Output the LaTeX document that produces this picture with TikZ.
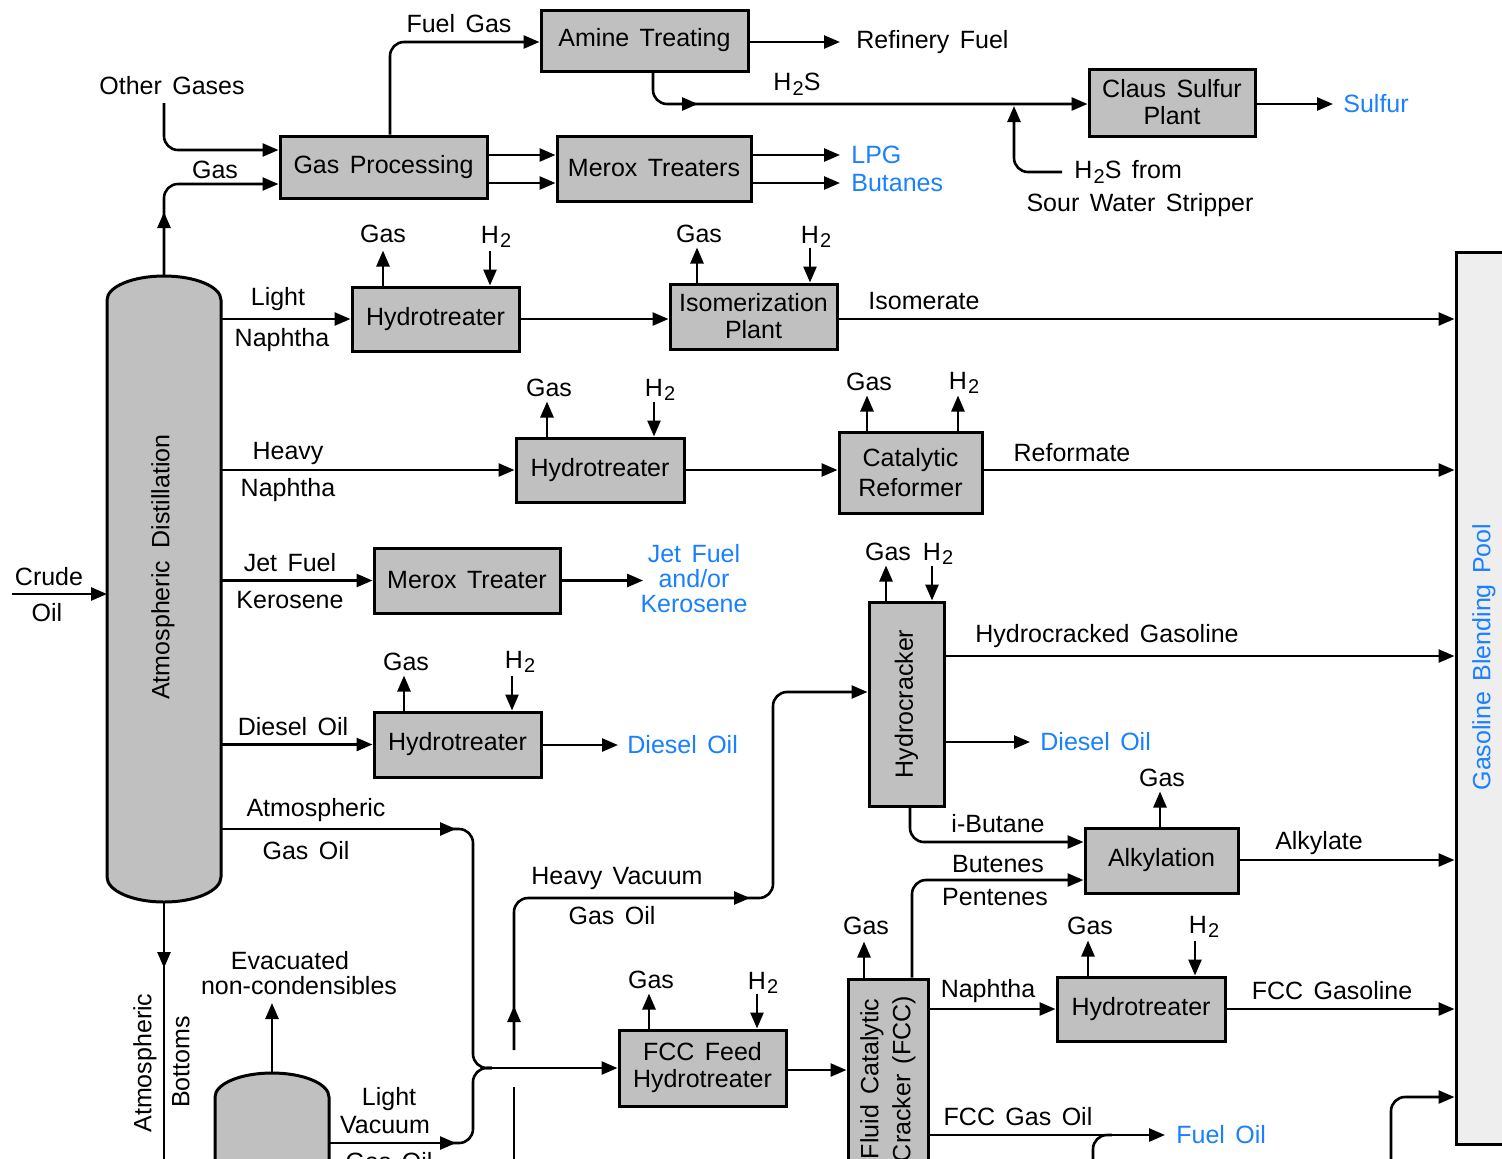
\documentclass[tikz,border=0pt]{standalone}
\usepackage{fontspec}
\setmainfont{Liberation Sans}[WordSpace=1.5]
\usetikzlibrary{arrows.meta,calc}
\definecolor{boxgray}{RGB}{192,192,192}
\definecolor{poolgray}{RGB}{238,238,238}
\definecolor{refblue}{RGB}{25,128,255}
\newcommand{\Htwo}{H\kern0.6pt\raisebox{-0.35ex}{\fontsize{10}{10}\selectfont 2}}
\begin{document}
\begin{tikzpicture}[x=0.5pt,y=-0.5pt,
 every node/.style={font=\fontsize{12.5}{13.5}\selectfont},
 box/.style={draw, line width=1.5pt, fill=boxgray, inner sep=1pt, align=center},
 ln/.style={line width=1.3pt},
 arr/.style={line width=1.3pt, -{Triangle[length=8pt,width=6.5pt]}},
 rc/.style={rounded corners=7pt},
 lbl/.style={inner sep=0pt, align=center},
 blu/.style={inner sep=0pt, align=center, text=refblue}]
\useasboundingbox (0,0) rectangle (1502,1158);
\clip (0,0) rectangle (1502,1158);

% ---------- columns ----------
\filldraw[fill=boxgray, line width=1.5pt] (107,877) -- (107,300) .. controls (107,286.7) and (132.5,276) .. (164,276) .. controls (195.5,276) and (221,286.7) .. (221,300) -- (221,877) .. controls (221,890.8) and (195.5,902) .. (164,902) .. controls (132.5,902) and (107,890.8) .. (107,877) -- cycle;
\filldraw[fill=boxgray, line width=1.5pt] (215,1175) -- (215,1097) .. controls (215,1083.7) and (240.5,1073) .. (272,1073) .. controls (303.5,1073) and (329,1083.7) .. (329,1097) -- (329,1175);
\coordinate (coltop) at (164,276);
\coordinate (colbot) at (164,902);
\coordinate (colE) at (221,0);
\coordinate (colW) at (107,0);
\coordinate (vacE) at (329,0);
\coordinate (vactop) at (272,1073);
\node[lbl,rotate=90] (coltxt) at (163,567) {Atmospheric\hspace{0.5em}Distillation};

% ---------- boxes ----------
\node[box,minimum width=103.5pt,minimum height=30.5pt] (amine) at (644.5,40.5) {Amine Treating};
\node[box,minimum width=103.5pt,minimum height=31pt] (gasproc) at (383.5,167) {Gas Processing};
\node[box,minimum width=97pt,minimum height=32.5pt] (merox) at (654,168.5) {Merox Treaters};
\node[box,minimum width=83pt,minimum height=33.5pt] (claus) at (1172,102.5) {Claus Sulfur\\Plant};
\node[box,minimum width=83.5pt,minimum height=32pt] (ht1) at (435.5,319) {Hydrotreater};
\node[box,minimum width=83.5pt,minimum height=32.5pt] (isom) at (753.5,316.5) {Isomerization\\Plant};
\node[box,minimum width=84pt,minimum height=32pt] (ht2) at (600,470) {Hydrotreater};
\node[box,minimum width=71.5pt,minimum height=40.5pt,font=\fontsize{12.5}{15}\selectfont] (reformer) at (910.5,472.5) {Catalytic\\Reformer};
\node[box,minimum width=93pt,minimum height=32.5pt] (meroxt) at (467,580.5) {Merox Treater};
\node[box,minimum width=37.5pt,minimum height=102pt] (hcr) at (906.5,704) {};
\node[lbl,rotate=90] (hcrtxt) at (hcr.center) {Hydrocracker};
\node[box,minimum width=83.5pt,minimum height=32.5pt] (ht3) at (457.5,744.5) {Hydrotreater};
\node[box,minimum width=76.5pt,minimum height=32.5pt] (alky) at (1161.5,860.5) {Alkylation};
\node[box,minimum width=84pt,minimum height=32pt] (ht4) at (1141,1009) {Hydrotreater};
\node[box,minimum width=83.5pt,minimum height=38pt] (fcchdt) at (702.5,1068) {FCC Feed\\Hydrotreater};
\node[box,minimum width=40pt,minimum height=135.5pt] (fcc) at (888,1114.5) {};
\node[lbl,rotate=90,font=\fontsize{12.5}{16}\selectfont] (fcctxt) at (888,1079) {Fluid Catalytic\\Cracker (FCC)};
\node[draw,line width=1.5pt,fill=poolgray,minimum width=37pt,minimum height=446pt,inner sep=0pt] (gbp) at (1493,698) {};
\node[blu,rotate=90] (gbptxt) at (1484,657) {Gasoline Blending Pool};

% ---------- labels ----------
\node[lbl] (fuelgas) at (459,24) {Fuel Gas};
\node[lbl,anchor=west] (reffuel) at (856,42) {Refinery Fuel};
\node[lbl] (h2s) at (797,84) {\Htwo S};
\node[lbl] (othergases) at (172,86) {Other Gases};
\node[lbl] (gaslbl) at (215,170) {Gas};
\node[blu,anchor=west] (lpg) at (851,155) {LPG};
\node[blu,anchor=west] (butanes) at (851,183) {Butanes};
\node[lbl,anchor=west] (swlbl) at (1074,172) {\Htwo S from};
\node[lbl] (swlbl2) at (1140,205) {Sour Water Stripper};
\node[blu,anchor=west] (sulfur) at (1343,104) {Sulfur};

\node[lbl] (g1) at (383,234) {Gas};   \node[lbl] (h1) at (496,237) {\Htwo};
\node[lbl] (g2) at (699,234) {Gas};   \node[lbl] (h2) at (816,237) {\Htwo};
\node[lbl] (g3) at (549,388) {Gas};   \node[lbl] (h3) at (660,390) {\Htwo};
\node[lbl] (g4) at (869,382) {Gas};   \node[lbl] (h4) at (964,383) {\Htwo};
\node[lbl] (g5) at (888,552) {Gas};   \node[lbl] (h5) at (938,554) {\Htwo};
\node[lbl] (g6) at (406,662) {Gas};   \node[lbl] (h6) at (520,662) {\Htwo};
\node[lbl] (g7) at (1162,778) {Gas};
\node[lbl] (g8) at (866,926) {Gas};
\node[lbl] (g9) at (1090,926) {Gas}; \node[lbl] (h9) at (1204,927) {\Htwo};
\node[lbl] (g10) at (651,980) {Gas}; \node[lbl] (h10) at (763,983) {\Htwo};

\node[lbl] (l1) at (278,299) {Light};
\node[lbl] (l2) at (282,340) {Naphtha};
\node[lbl] (l3) at (924,301) {Isomerate};
\node[lbl] (l4) at (288,453) {Heavy};
\node[lbl] (l5) at (288,490) {Naphtha};
\node[lbl] (l6) at (1072,453) {Reformate};
\node[lbl] (l7) at (290,563) {Jet Fuel};
\node[lbl] (l8) at (290,600) {Kerosene};
\node[blu,font=\fontsize{12.5}{12.5}\selectfont] (jetblue) at (694,579) {Jet Fuel\\and/or\\Kerosene};
\node[lbl] (crude) at (49,577) {Crude};
\node[lbl] (oil) at (47,613) {Oil};
\node[lbl] (l9) at (1107,636) {Hydrocracked Gasoline};
\node[lbl] (l10) at (293,727) {Diesel Oil};
\node[blu,anchor=west] (diesel1) at (627,745) {Diesel Oil};
\node[blu,anchor=west] (diesel2) at (1040,742) {Diesel Oil};
\node[lbl] (l11) at (316,810) {Atmospheric};
\node[lbl] (l12) at (306,851) {Gas Oil};
\node[lbl] (l13) at (998,824) {i-Butane};
\node[lbl] (l14) at (1319,843) {Alkylate};
\node[lbl] (l15) at (998,864) {Butenes};
\node[lbl] (l16) at (995,897) {Pentenes};
\node[lbl] (l17) at (617,878) {Heavy Vacuum};
\node[lbl] (l18) at (612,916) {Gas Oil};
\node[lbl] (l19) at (290,961) {Evacuated};
\node[lbl] (l20) at (299,986) {non-condensibles};
\node[lbl] (l21) at (988,991) {Naphtha};
\node[lbl] (l22) at (1332,991) {FCC Gasoline};
\node[lbl,rotate=90] (l23) at (145,1063) {Atmospheric};
\node[lbl,rotate=90] (l24) at (181,1062) {Bottoms};
\node[lbl] (l25) at (389,1099) {Light};
\node[lbl] (l26) at (385,1125) {Vacuum};
\node[lbl] (l27) at (389,1162) {Gas Oil};
\node[lbl] (l28) at (1018,1117) {FCC Gas Oil};
\node[blu,anchor=west] (fueloil) at (1176,1135) {Fuel Oil};

% ---------- top connectors ----------
\draw[arr,rc] (gasproc.north -| 390,0) |- (amine.west |- 0,42);
\draw[arr] (amine.east |- reffuel.west) -- ([xshift=-8pt]reffuel.west);
\draw[arr,rc] (amine.south -| 653,0) |- (claus.west |- 0,104);
\draw[arr] (672,104) -- (698,104);
\coordinate (swj) at (1014,106);
\draw[arr,rc] ([xshift=-6pt]swlbl.west) -| (swj);
\draw[arr] (claus.east |- sulfur.west) -- ([xshift=-5pt]sulfur.west);
\coordinate (ogstart) at (164,103);
\draw[arr,rc] (ogstart) |- (gasproc.west |- 0,150);
\draw[arr,rc] (coltop) |- (gasproc.west |- 0,184);
\draw[arr] (164,234) -- (164,212);
\draw[arr] (gasproc.east |- lpg.west) -- (merox.west |- lpg.west);
\draw[arr] (gasproc.east |- butanes.west) -- (merox.west |- butanes.west);
\draw[arr] (merox.east |- lpg.west) -- ([xshift=-5.5pt]lpg.west);
\draw[arr] (merox.east |- butanes.west) -- ([xshift=-5.5pt]butanes.west);

% ---------- gas / H2 ports ----------
\draw[arr] (ht1.north -| 383,0) -- ++(0,-35);
\draw[arr] (ht1.north -| 490,0) ++(0,-35) -- ++(0,35);
\draw[arr] (isom.north -| 697,0) -- ++(0,-35);
\draw[arr] (isom.north -| 810,0) ++(0,-35) -- ++(0,35);
\draw[arr] (ht2.north -| 547,0) -- ++(0,-35);
\draw[arr] (ht2.north -| 654,0) ++(0,-35) -- ++(0,35);
\draw[arr] (reformer.north -| 867,0) -- ++(0,-35);
\draw[arr] (reformer.north -| 958,0) -- ++(0,-35);
\draw[arr] (hcr.north -| 886,0) -- ++(0,-35);
\draw[arr] (hcr.north -| 932,0) ++(0,-35) -- ++(0,35);
\draw[arr] (ht3.north -| 404,0) -- ++(0,-35);
\draw[arr] (ht3.north -| 512,0) ++(0,-35) -- ++(0,35);
\draw[arr] (alky.north -| 1160,0) -- ++(0,-35);
\draw[arr] (fcc.north -| 864,0) -- ++(0,-36);
\draw[arr] (ht4.north -| 1088,0) -- ++(0,-35);
\draw[arr] (ht4.north -| 1195,0) ++(0,-35) -- ++(0,35);
\draw[arr] (fcchdt.north -| 649,0) -- ++(0,-35);
\draw[arr] (fcchdt.north -| 757,0) ++(0,-35) -- ++(0,35);

% ---------- column side streams ----------
\draw[arr] (12,594) -- (colW |- 0,594);
\draw[arr] (colE |- ht1.west) -- (ht1.west);
\draw[arr] (ht1.east) -- (isom.west |- ht1.east);
\draw[arr] (isom.east |- ht1.east) -- (gbp.west |- ht1.east);
\draw[arr] (colE |- ht2.west) -- (ht2.west);
\draw[arr] (ht2.east) -- (reformer.west |- ht2.east);
\draw[arr] (reformer.east |- ht2.east) -- (gbp.west |- ht2.east);
\draw[arr] (colE |- meroxt.west) -- (meroxt.west);
\draw[arr] (meroxt.east) -- ([xshift=1.5pt]meroxt.east -| jetblue.west);
\draw[arr] (colE |- ht3.west) -- (ht3.west);
\draw[arr] (ht3.east |- diesel1.west) -- ([xshift=-4.5pt]diesel1.west);

% atmospheric gas oil + light vacuum gas oil merge
\draw[arr] (colE |- 0,829) -- (456,829);
\draw[ln,rc] (440,829) -| (473,1000) |- (492,1068);
\draw[arr] (vacE |- 0,1143) -- (456,1143);
\draw[ln,rc] (440,1143) -| (473,1110) |- (492,1068);
\draw[arr] (488,1068) -- (fcchdt.west |- 0,1068);

% heavy vacuum gas oil
\draw[ln] (514,1175) -- (514,1087);
\draw[arr,rc] (514,1050) |- (773,898) |- (hcr.west |- 0,692);
\draw[arr] (514,1032) -- (514,1006);
\draw[arr] (720,898) -- (750,898);

% bottoms / vacuum
\draw[ln] (colbot) -- (164,1175);
\draw[arr] (164,940) -- (164,968);
\draw[arr] (vactop) -- (272,1003);

% ---------- downstream ----------
\draw[arr] (fcchdt.east |- 0,1070) -- (fcc.west |- 0,1070);
\draw[arr,rc] (fcc.north -| 912,0) |- (alky.west |- 0,880);
\draw[arr,rc] (hcr.south -| 910,0) |- (alky.west |- 0,842);
\draw[arr] (hcr.east |- 0,656) -- (gbp.west |- 0,656);
\draw[arr] (hcr.east |- diesel2.west) -- ([xshift=-5pt]diesel2.west);
\draw[arr] (alky.east |- 0,860) -- (gbp.west |- 0,860);
\draw[arr] (fcc.east |- ht4.west) -- (ht4.west);
\draw[arr] (ht4.east) -- (gbp.west |- ht4.east);
\draw[arr] (fcc.east |- fueloil.west) -- ([xshift=-5.5pt]fueloil.west);
\draw[ln,rc] (1093,1175) |- (1112,1135);
\draw[arr,rc] (1391,1175) |- (gbp.west |- 0,1097);
\end{tikzpicture}
\end{document}
